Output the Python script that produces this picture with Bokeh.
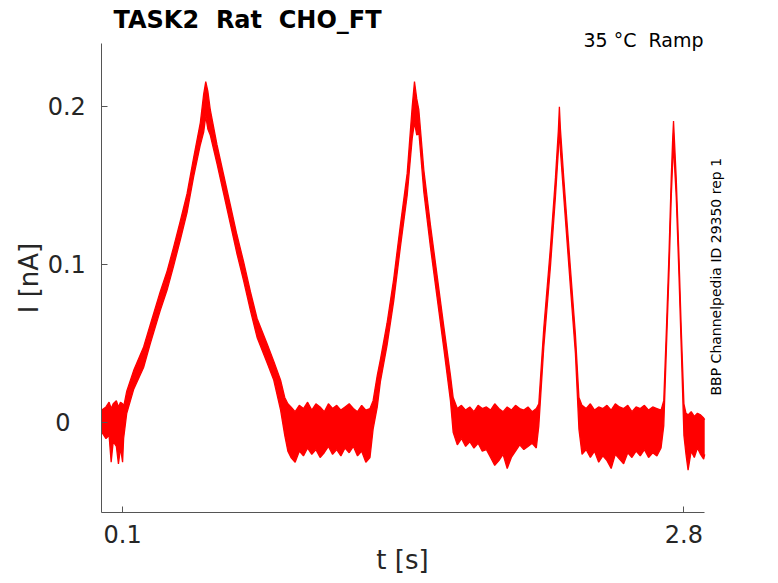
import math
from bokeh.plotting import figure
from bokeh.models import Range1d, FixedTicker, Label
from bokeh.embed import file_html
from bokeh.resources import INLINE

# ---- data (t in s, current envelope in nA) ----
base0_t  = [0.000, 0.020, 0.035, 0.045, 0.055, 0.070, 0.080, 0.090, 0.100, 0.105]
base0_hi = [0.008, 0.010, 0.013, 0.009, 0.012, 0.014, 0.010, 0.013, 0.012, 0.010]
base0_lo = [-0.006, -0.010, -0.008, -0.025, -0.012, -0.015, -0.026, -0.016, -0.025, -0.010]

ramp1_t  = [0.120, 0.153, 0.201, 0.233, 0.281, 0.314, 0.345, 0.378, 0.410, 0.442, 0.474, 0.490, 0.500,
            0.510, 0.522, 0.554, 0.586, 0.618, 0.650, 0.682, 0.715, 0.747, 0.795, 0.827, 0.860]
ramp1_hi = [0.020, 0.033, 0.048, 0.062, 0.083, 0.096, 0.111, 0.128, 0.145, 0.168, 0.190, 0.208, 0.216,
            0.210, 0.198, 0.176, 0.157, 0.138, 0.119, 0.102, 0.083, 0.066, 0.050, 0.039, 0.027]
ramp1_lo = [0.006, 0.021, 0.035, 0.050, 0.071, 0.084, 0.099, 0.116, 0.133, 0.156, 0.176, 0.184, 0.194,
            0.186, 0.182, 0.164, 0.145, 0.126, 0.107, 0.090, 0.071, 0.054, 0.038, 0.027, 0.008]

base1_t  = [0.880, 0.895, 0.910, 0.930, 0.950, 0.970, 0.990, 1.010, 1.030, 1.050, 1.070, 1.090,
            1.110, 1.130, 1.150, 1.170, 1.190, 1.210, 1.230, 1.250, 1.270, 1.290, 1.305]
base1_hi = [0.016, 0.012, 0.010, 0.007, 0.011, 0.009, 0.013, 0.008, 0.012, 0.010, 0.007, 0.012,
            0.009, 0.011, 0.008, 0.010, 0.012, 0.009, 0.007, 0.011, 0.008, 0.009, 0.014]
base1_lo = [-0.008, -0.018, -0.022, -0.025, -0.018, -0.021, -0.016, -0.020, -0.017, -0.022, -0.019, -0.015,
            -0.020, -0.017, -0.021, -0.016, -0.019, -0.015, -0.021, -0.018, -0.025, -0.022, -0.004]

ramp2_t  = [1.325, 1.340, 1.372, 1.404, 1.436, 1.469, 1.493, 1.504, 1.515, 1.525, 1.549, 1.581, 1.613, 1.645, 1.677]
ramp2_hi = [0.030, 0.040, 0.063, 0.091, 0.125, 0.158, 0.200, 0.216, 0.205, 0.198, 0.160, 0.125, 0.093, 0.061, 0.030]
ramp2_lo = [0.010, 0.026, 0.049, 0.077, 0.111, 0.144, 0.180, 0.190, 0.182, 0.184, 0.146, 0.111, 0.079, 0.047, 0.014]

base2_t  = [1.690, 1.710, 1.730, 1.750, 1.770, 1.790, 1.810, 1.830, 1.850, 1.870, 1.890,
            1.910, 1.930, 1.950, 1.970, 1.990, 2.010, 2.030, 2.050, 2.070, 2.090, 2.102]
base2_hi = [0.016, 0.009, 0.011, 0.008, 0.010, 0.007, 0.011, 0.009, 0.010, 0.008, 0.012,
            0.009, 0.007, 0.010, 0.008, 0.011, 0.009, 0.008, 0.010, 0.007, 0.009, 0.012]
base2_lo = [-0.006, -0.014, -0.010, -0.015, -0.012, -0.016, -0.013, -0.018, -0.017, -0.022, -0.027,
            -0.024, -0.020, -0.029, -0.022, -0.018, -0.014, -0.017, -0.015, -0.013, -0.016, -0.002]

ramp3_t  = [2.126, 2.158, 2.182, 2.196, 2.201, 2.206, 2.222, 2.254, 2.278]
ramp3_hi = [0.060, 0.111, 0.155, 0.185, 0.200, 0.186, 0.155, 0.098, 0.056]
ramp3_lo = [0.048, 0.099, 0.143, 0.172, 0.186, 0.172, 0.143, 0.086, 0.044]

base3_t  = [2.295, 2.310, 2.330, 2.350, 2.370, 2.390, 2.410, 2.430, 2.450, 2.470, 2.490,
            2.510, 2.530, 2.550, 2.570, 2.590, 2.610, 2.630, 2.650, 2.670, 2.690, 2.703]
base3_hi = [0.016, 0.011, 0.009, 0.012, 0.008, 0.010, 0.009, 0.011, 0.008, 0.012, 0.010,
            0.009, 0.011, 0.007, 0.010, 0.009, 0.011, 0.008, 0.010, 0.009, 0.008, 0.014]
base3_lo = [-0.004, -0.020, -0.017, -0.022, -0.018, -0.025, -0.021, -0.024, -0.029, -0.020, -0.023,
            -0.026, -0.019, -0.022, -0.018, -0.021, -0.017, -0.022, -0.019, -0.021, -0.016, -0.002]

ramp4_t  = [2.716, 2.728, 2.739, 2.746, 2.750, 2.754, 2.763, 2.776, 2.787]
ramp4_hi = [0.060, 0.106, 0.155, 0.180, 0.191, 0.180, 0.155, 0.106, 0.060]
ramp4_lo = [0.048, 0.094, 0.143, 0.165, 0.178, 0.165, 0.143, 0.094, 0.048]

base4_t  = [2.800, 2.810, 2.820, 2.835, 2.850, 2.865, 2.880, 2.895, 2.900]
base4_hi = [0.012, 0.006, 0.005, 0.007, 0.004, 0.006, 0.005, 0.003, 0.002]
base4_lo = [-0.008, -0.020, -0.030, -0.018, -0.022, -0.016, -0.020, -0.023, -0.020]

x_ticks = [0.1, 2.8]
x_tick_labels = ["0.1", "2.8"]
y_ticks = [0, 0.1, 0.2]
y_tick_labels = ["0\u00a0\u00a0", "0.1", "0.2"]
x_axis_span = (0.0, 2.9)
y_axis_span = (-0.057, 0.2399)

title_text = "TASK2 \u00a0Rat \u00a0CHO_FT"
cond_text = "35 \u00b0C \u00a0Ramp"
side_text = "BBP Channelpedia ID 29350 rep 1"
x_label = "t [s]"
y_label = "I [nA]"

t = base0_t + ramp1_t + base1_t + ramp2_t + base2_t + ramp3_t + base3_t + ramp4_t + base4_t
hi = base0_hi + ramp1_hi + base1_hi + ramp2_hi + base2_hi + ramp3_hi + base3_hi + ramp4_hi + base4_hi
lo = base0_lo + ramp1_lo + base1_lo + ramp2_lo + base2_lo + ramp3_lo + base3_lo + ramp4_lo + base4_lo

FONT = "DejaVu Sans"
RED = "#ff0000"
TXT = "#262626"
AX = "#555555"

W, H = 770, 575
AX_LEFT_PX, AX_TOP_PX = 101.3, 43.3          # where the axes' corner sits in the picture
PX_PER_S = 207.9
PX_PER_NA = 1579.6
x0 = x_axis_span[0] - AX_LEFT_PX / PX_PER_S
y1 = y_axis_span[1] + AX_TOP_PX / PX_PER_NA

p = figure(width=W, height=H, output_backend="svg", toolbar_location=None, title=None,
           x_range=Range1d(x0, x0 + W / PX_PER_S), y_range=Range1d(y1 - H / PX_PER_NA, y1),
           min_border=0)
p.outline_line_color = None
p.grid.visible = False
p.background_fill_color = "white"
p.border_fill_color = "white"

p.varea(x=t, y1=lo, y2=hi, fill_color=RED, fill_alpha=1.0)
p.line(t, hi, line_color=RED, line_width=1.3)
p.line(t, lo, line_color=RED, line_width=1.3)

for ax in (p.xaxis[0], p.yaxis[0]):
    ax.axis_line_color = AX
    ax.axis_line_width = 1
    ax.major_tick_line_color = AX
    ax.major_tick_in = 6
    ax.major_tick_out = 0
    ax.minor_tick_line_color = None
    ax.major_label_text_font = FONT
    ax.major_label_text_font_size = "24px"
    ax.major_label_text_color = TXT

p.xaxis.ticker = FixedTicker(ticks=x_ticks)
p.xaxis.major_label_overrides = dict(zip(x_ticks, x_tick_labels))
p.xaxis.major_label_standoff = 12
p.xaxis.fixed_location = y_axis_span[0]
p.xaxis.bounds = x_axis_span
p.yaxis.ticker = FixedTicker(ticks=y_ticks)
p.yaxis.major_label_overrides = dict(zip(y_ticks, y_tick_labels))
p.yaxis.major_label_standoff = 16
p.yaxis.fixed_location = x_axis_span[0]
p.yaxis.bounds = y_axis_span

# texts (screen units, from the bottom-left corner of the canvas)
def lab(x, y, text, size, **kw):
    p.add_layout(Label(x=x, y=H - y, x_units="screen", y_units="screen", text=text,
                       text_font=FONT, text_font_size=size, text_baseline="alphabetic", **kw))

lab(113, 19, title_text, "24px", text_font_style="bold", text_color="black", text_align="left")
lab(703, 39, cond_text, "19px", text_color="black", text_align="right")
lab(715, 395, side_text, "14px", text_color="black", text_align="left", angle=math.pi / 2)
lab(402, 559, x_label, "26px", text_color=TXT, text_align="center")
lab(28, 277.5, y_label, "26px", text_color=TXT, text_align="center", angle=math.pi / 2)

open("out.html", "w").write(file_html(p, INLINE))
